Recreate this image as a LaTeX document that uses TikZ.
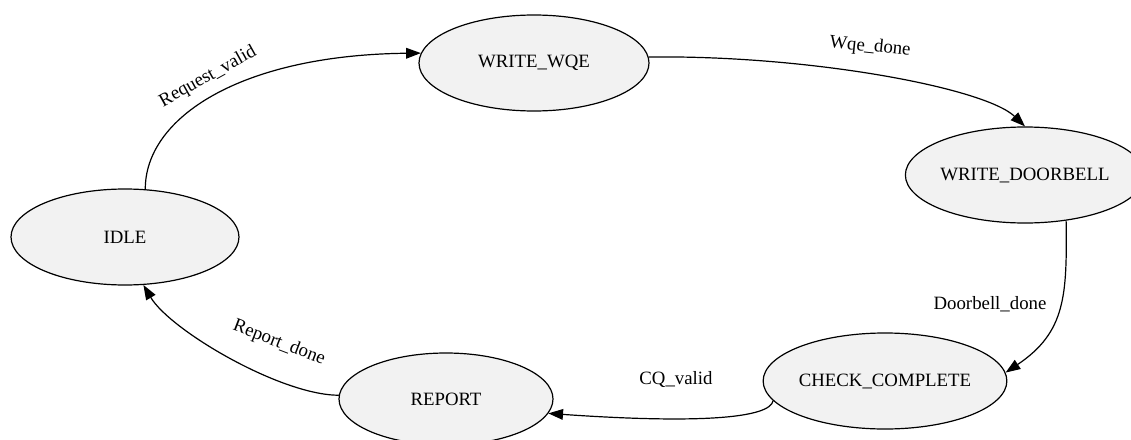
\documentclass[tikz,border=0pt]{standalone}
\usepackage{fontspec}
\setmainfont{Liberation Serif}
\usetikzlibrary{arrows.meta,shapes.geometric}
\definecolor{statefill}{RGB}{242,242,242}
\begin{document}
\begin{tikzpicture}[x=0.75pt,y=-0.75pt,
  state/.style={ellipse,draw=black,line width=0.9pt,fill=statefill,inner sep=0pt,
    minimum width=171pt,minimum height=72pt,font=\fontsize{14.1}{17}\selectfont},
  trans/.style={draw=black,line width=0.9pt,-{Triangle[length=11pt,width=8pt]}},
  elabel/.style={inner sep=0pt,font=\fontsize{14.1}{17}\selectfont}]
\useasboundingbox (0,0) rectangle (1131,439);

% states
\node[state] (idle) at (125,237) {IDLE};
\node[state,minimum width=172.5pt] (wqe) at (534,63) {WRITE\_WQE};
\node[state] (doorbell) at (1025,175) {WRITE\_DOORBELL};
\node[state] (check) at (885,381) {CHECK\_COMPLETE};
\node[state,minimum width=160.5pt,minimum height=69pt] (report) at (446,399) {REPORT};

% transitions
\draw[trans] (idle.67) .. controls (145,118) and (240,55) .. (wqe.175);
\draw[trans] (wqe.3.5) .. controls (810,55) and (985,88) .. (doorbell.north);
\draw[trans] (doorbell.-48) .. controls (1067,295) and (1066,332) .. (check.4);
\draw[trans] (check.190) .. controls (770,418) and (700,424) .. (report.-8);
\draw[trans] (report.178) .. controls (280,395) and (170,330) .. (idle.-69);

% transition labels
\node[elabel,rotate=29] (lreq) at (208,77) {Request\_valid};
\node[elabel,rotate=-6] (lwqe) at (870,47) {Wqe\_done};
\node[elabel] (ldoor) at (990,304) {Doorbell\_done};
\node[elabel] (lcq) at (676,379) {CQ\_valid};
\node[elabel,rotate=-21] (lrep) at (279,343) {Report\_done};
\end{tikzpicture}
\end{document}
